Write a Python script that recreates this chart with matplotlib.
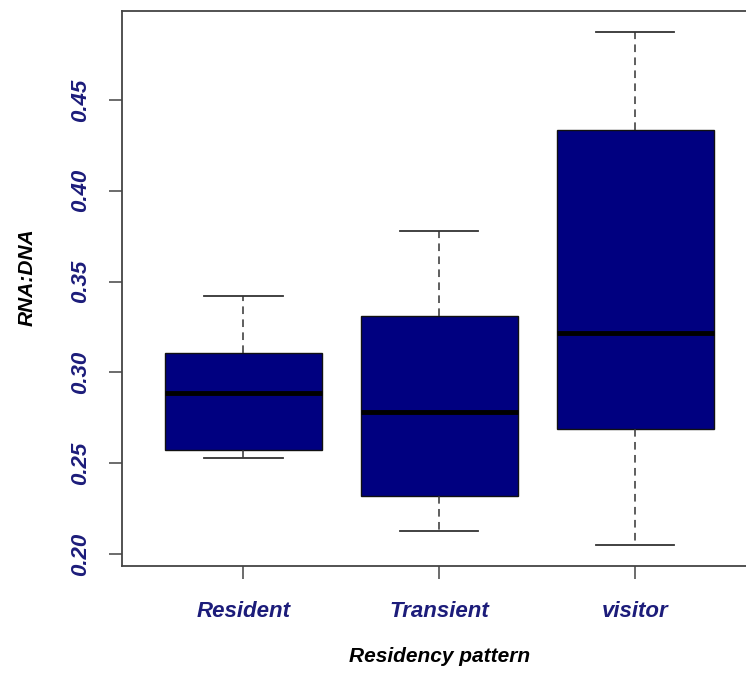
import matplotlib
matplotlib.use('Agg')
import matplotlib.pyplot as plt

# box summary (R boxplot)
groups = ['Resident', 'Transient', 'visitor']
whisk_lo = [0.2527, 0.2130, 0.2048]
q1 = [0.2573, 0.2321, 0.2688]
med = [0.2885, 0.2780, 0.3215]
q3 = [0.3109, 0.3311, 0.4335]
whisk_hi = [0.3422, 0.3780, 0.4876]
yticks = [0.20, 0.25, 0.30, 0.35, 0.40, 0.45]

plt.rcParams['font.family'] = ['Liberation Sans', 'DejaVu Sans']
navy = '#000080'
labcol = '#1c1c7a'

fig = plt.figure(figsize=(7.46, 6.80), dpi=100)
ax = fig.add_axes([0.1635, 0.1676, 0.8507, 0.8162])

stats = []
for i in range(len(groups)):
    stats.append({'whislo': whisk_lo[i], 'q1': q1[i], 'med': med[i],
                  'q3': q3[i], 'whishi': whisk_hi[i], 'label': groups[i]})

ax.bxp(stats, positions=[1, 2, 3], widths=0.8, capwidths=0.4,
       patch_artist=True, showfliers=False,
       boxprops=dict(facecolor=navy, edgecolor='#111111', linewidth=1),
       medianprops=dict(color='black', linewidth=3.5, solid_capstyle='butt'),
       whiskerprops=dict(color='#333333', linewidth=1.1, linestyle=(0, (5, 3.5))),
       capprops=dict(color='#333333', linewidth=1.3))

ax.set_xlim(0.38, 3.62)
ax.set_ylim(0.1935, 0.4989)
ax.set_yticks(yticks)
ax.set_yticklabels(['%.2f' % v for v in yticks])
ax.set_xticks([1, 2, 3])
ax.set_xticklabels(groups)

for s in ax.spines.values():
    s.set_color('#444444')
    s.set_linewidth(1.3)

ax.tick_params(axis='both', direction='out', length=9.5, width=1.1, color='#444444')
ax.tick_params(axis='y', pad=13)
ax.tick_params(axis='x', pad=16)
for t in ax.get_yticklabels():
    t.set_rotation(90)
    t.set_va('center')
    t.set_fontsize(16)
    t.set_fontweight('bold')
    t.set_fontstyle('italic')
    t.set_color(labcol)
for t in ax.get_xticklabels():
    t.set_fontsize(16)
    t.set_fontweight('bold')
    t.set_fontstyle('italic')
    t.set_color(labcol)

ax.set_ylabel('RNA:DNA', fontsize=15, fontweight='bold', fontstyle='italic', labelpad=24)
ax.yaxis.label.set_y(0.521)
ax.set_xlabel('Residency pattern', fontsize=15, fontweight='bold', fontstyle='italic', labelpad=18)

fig.savefig('out.png', dpi=100)
